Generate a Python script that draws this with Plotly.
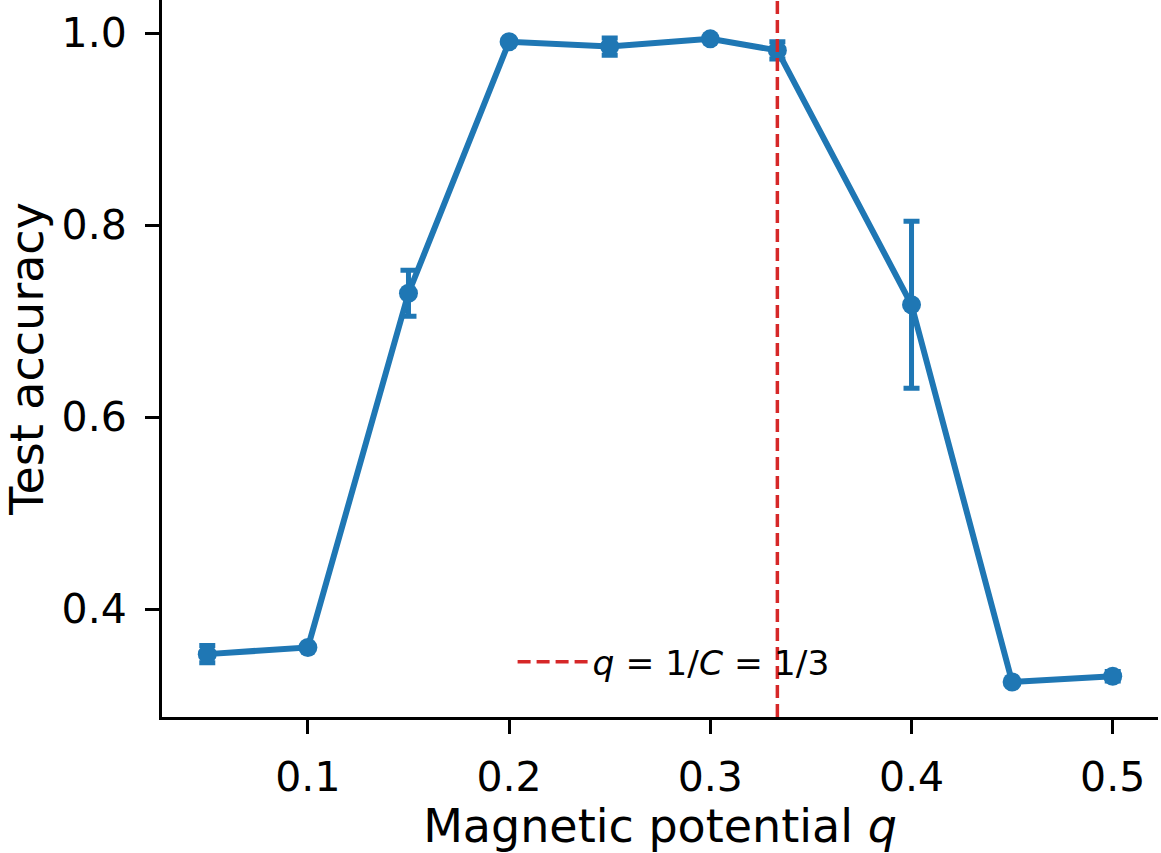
import plotly.graph_objects as go

q_values = [0.05, 0.10, 0.15, 0.20, 0.25, 0.30, 1/3, 0.40, 0.45, 0.50]
accuracy = [0.353, 0.360, 0.729, 0.991, 0.986, 0.994, 0.982, 0.717, 0.324, 0.330]
accuracy_err = [0.009, 0.0, 0.024, 0.0, 0.009, 0.0, 0.009, 0.087, 0.0, 0.005]
q_line = 1/3
legend_label = "<i>q</i> = 1/<i>C</i> = 1/3"
x_ticks = [0.1, 0.2, 0.3, 0.4, 0.5]
y_ticks = [0.4, 0.6, 0.8, 1.0]
x_range = [0.0275, 0.5225]
y_range = [0.2875, 1.0345]

BLUE = "#1f77b4"
RED = "#d62728"

fig = go.Figure()
fig.add_trace(go.Scatter(
    x=q_values, y=accuracy, mode="lines+markers",
    line=dict(color=BLUE, width=6),
    marker=dict(color=BLUE, size=19),
    error_y=dict(type="data", array=accuracy_err, visible=True,
                 color=BLUE, thickness=5, width=8),
    showlegend=False,
))
fig.add_trace(go.Scatter(
    x=[q_line, q_line], y=y_range, mode="lines",
    line=dict(color=RED, width=3.5, dash="13px,6px"),
    name=legend_label, showlegend=True,
))

font_family = "DejaVu Sans"
fig.update_layout(
    width=1161, height=853,
    margin=dict(l=162, r=3, t=0, b=136),
    plot_bgcolor="white", paper_bgcolor="white",
    font=dict(family=font_family, color="black"),
    legend=dict(x=0.352, y=0.077, xanchor="left", yanchor="middle",
                bgcolor="rgba(0,0,0,0)", font=dict(size=34.5, family=font_family),
                itemwidth=70),
)
fig.update_xaxes(
    range=x_range, tickvals=x_ticks, ticktext=[f"{v:.1f}" for v in x_ticks],
    showline=True, linecolor="black", linewidth=3, mirror=False,
    ticks="outside", ticklen=14, tickwidth=3, tickcolor="black",
    tickfont=dict(size=41), ticklabelstandoff=8,
    showgrid=False, zeroline=False,
    title=dict(text="Magnetic potential <i>q</i>", font=dict(size=46), standoff=12),
)
fig.update_yaxes(
    range=y_range, tickvals=y_ticks, ticktext=[f"{v:.1f}" for v in y_ticks],
    showline=True, linecolor="black", linewidth=3, mirror=False,
    ticks="outside", ticklen=14, tickwidth=3, tickcolor="black",
    tickfont=dict(size=41), ticklabelstandoff=10,
    showgrid=False, zeroline=False,
    title=dict(text="Test accuracy", font=dict(size=46), standoff=24),
)
fig.write_html("out.html")
